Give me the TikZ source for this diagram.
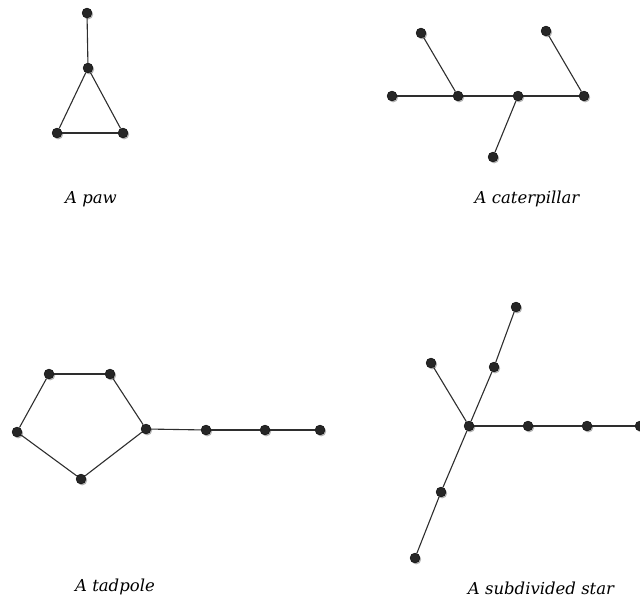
\documentclass[tikz,border=0pt]{standalone}
\usepackage{fontspec}
\setmainfont{DejaVu Serif}
\usepackage{tikz}
\usetikzlibrary{shadows}
\definecolor{vxdark}{HTML}{262626}
\definecolor{edgegray}{HTML}{2E2E2E}

\begin{document}
\begin{tikzpicture}[
  x=1pt, y=-1pt,
  vtx/.style={circle, fill=vxdark, draw=black, line width=0.3pt, inner sep=0pt, minimum size=10pt,
    drop shadow={shadow xshift=1.2pt, shadow yshift=-1.4pt, fill=gray, opacity=0.6}},
  edge/.style={draw=edgegray, line width=1.1pt},
  caption/.style={font=\itshape\fontsize{16.5}{19}\selectfont, inner sep=0pt}
]
\useasboundingbox (0,0) rectangle (640,601);
% paw
\node[vtx] (p1) at (87,13) {};
\node[vtx] (p2) at (88,68) {};
\node[vtx] (p3) at (57,133) {};
\node[vtx] (p4) at (123,133) {};
\draw[edge] (p1) -- (p2);
\draw[edge] (p2) -- (p3);
\draw[edge] (p3) -- (p4);
\draw[edge] (p4) -- (p2);
\node[caption] (pawcap) at (91,199) {A paw};
% caterpillar
\node[vtx] (c1) at (392,96) {};
\node[vtx] (c2) at (458,96) {};
\node[vtx] (c3) at (518,96) {};
\node[vtx] (c4) at (584,96) {};
\node[vtx] (c5) at (421,33) {};
\node[vtx] (c6) at (546,31) {};
\node[vtx] (c7) at (493,157) {};
\draw[edge] (c1) -- (c2);
\draw[edge] (c2) -- (c3);
\draw[edge] (c3) -- (c4);
\draw[edge] (c5) -- (c2);
\draw[edge] (c6) -- (c4);
\draw[edge] (c3) -- (c7);
\node[caption] (catcap) at (527,199) {A caterpillar};
% tadpole
\node[vtx] (t1) at (49,374) {};
\node[vtx] (t2) at (110,374) {};
\node[vtx] (t3) at (146,429) {};
\node[vtx] (t4) at (81,479) {};
\node[vtx] (t5) at (17,432) {};
\node[vtx] (t6) at (206,430) {};
\node[vtx] (t7) at (265,430) {};
\node[vtx] (t8) at (320,430) {};
\draw[edge] (t1) -- (t2);
\draw[edge] (t2) -- (t3);
\draw[edge] (t3) -- (t4);
\draw[edge] (t4) -- (t5);
\draw[edge] (t5) -- (t1);
\draw[edge] (t3) -- (t6);
\draw[edge] (t6) -- (t7);
\draw[edge] (t7) -- (t8);
\node[caption] (tadcap) at (115,587) {A tadpole};
% subdivided star
\node[vtx] (s0) at (469,426) {};
\node[vtx] (s1) at (494,367) {};
\node[vtx] (s2) at (516,307) {};
\node[vtx] (s3) at (431,363) {};
\node[vtx] (s4) at (528,426) {};
\node[vtx] (s5) at (587,426) {};
\node[vtx] (s6) at (640,426) {};
\node[vtx] (s7) at (441,492) {};
\node[vtx] (s8) at (415,558) {};
\draw[edge] (s0) -- (s1);
\draw[edge] (s1) -- (s2);
\draw[edge] (s0) -- (s3);
\draw[edge] (s0) -- (s4);
\draw[edge] (s4) -- (s5);
\draw[edge] (s5) -- (s6);
\draw[edge] (s0) -- (s7);
\draw[edge] (s7) -- (s8);
\node[caption] (starcap) at (541,588) {A subdivided star};
\end{tikzpicture}
\end{document}
